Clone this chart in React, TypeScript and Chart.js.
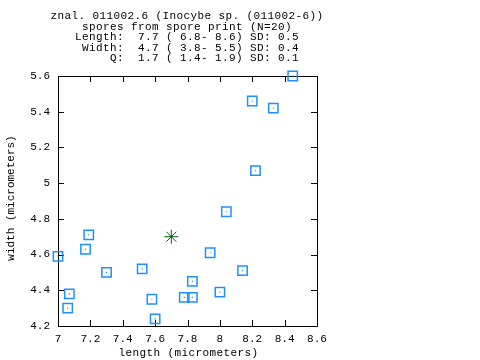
import React, { useEffect, useRef } from "react";
import { Chart, registerables } from "chart.js";

Chart.register(...registerables);

// ---- data ----
const lengths = [7.19, 7.17, 7.0, 7.3, 7.52, 7.07, 7.06, 7.58, 7.6, 7.78, 7.83, 7.83, 8.04, 7.94, 8.14, 8.0, 8.45, 8.2, 8.33, 8.22];
const widths = [4.71, 4.63, 4.59, 4.5, 4.52, 4.38, 4.3, 4.35, 4.24, 4.36, 4.36, 4.45, 4.84, 4.61, 4.51, 4.39, 5.6, 5.46, 5.42, 5.07];
const meanLength = [7.7];
const meanWidth = [4.7];

const xMin = 7.0;
const xMax = 8.6;
const yMin = 4.2;
const yMax = 5.6;
const tickStep = 0.2;

const titleLines = [
  "znal. 011002.6 (Inocybe sp. (011002-6))",
  "spores from spore print (N=20)",
  "Length:  7.7 ( 6.8- 8.6) SD: 0.5",
  " Width:  4.7 ( 3.8- 5.5) SD: 0.4",
  "     Q:  1.7 ( 1.4- 1.9) SD: 0.1",
];
const xTitle = "length (micrometers)";
const yTitle = "width (micrometers)";

const MONO = "'Liberation Mono', 'DejaVu Sans Mono', monospace";
const SQUARE_COLOR = "#1e90ff";
const MEAN_COLOR = "#006400";

const fmt = (v: number | string) => Number(Number(v).toFixed(1)).toString();

const framePlugin = {
  id: "gnuplotFrame",
  beforeDatasetsDraw(chart: any) {
    const { ctx, chartArea } = chart;
    const { left, right, top, bottom } = chartArea;
    ctx.save();
    ctx.strokeStyle = "#000";
    ctx.lineWidth = 1;
    ctx.beginPath();
    ctx.rect(Math.round(left) + 0.5, Math.round(top) + 0.5, Math.round(right - left), Math.round(bottom - top));
    ctx.stroke();
    const tl = 6;
    const xs = chart.scales.x;
    const ys = chart.scales.y;
    ctx.beginPath();
    xs.ticks.forEach((t: any) => {
      const px = Math.round(xs.getPixelForValue(t.value)) + 0.5;
      ctx.moveTo(px, bottom);
      ctx.lineTo(px, bottom - tl);
      ctx.moveTo(px, top);
      ctx.lineTo(px, top + tl);
    });
    ys.ticks.forEach((t: any) => {
      const py = Math.round(ys.getPixelForValue(t.value)) + 0.5;
      ctx.moveTo(left, py);
      ctx.lineTo(left + tl, py);
      ctx.moveTo(right, py);
      ctx.lineTo(right - tl, py);
    });
    ctx.stroke();
    ctx.restore();
  },
  afterDraw(chart: any) {
    const { ctx, chartArea } = chart;
    ctx.save();
    ctx.fillStyle = "#000";
    ctx.font = `11px ${MONO}`;
    (ctx as any).letterSpacing = "0.4px";
    ctx.textBaseline = "middle";
    ctx.textAlign = "left";
    const cx = 187;
    const refW = ctx.measureText(titleLines[2]).width;
    titleLines.forEach((line, i) => {
      const w = i < 2 ? ctx.measureText(line).width : refW;
      ctx.fillText(line, cx - w / 2, 16.5 + i * 10.5);
    });
    // x axis title
    const xw = ctx.measureText(xTitle).width;
    ctx.fillText(xTitle, (chartArea.left + chartArea.right) / 2 + 1 - xw / 2, 353);
    // y axis title
    (ctx as any).letterSpacing = "0px";
    ctx.translate(11, (chartArea.top + chartArea.bottom) / 2 - 3);
    ctx.rotate(-Math.PI / 2);
    ctx.textAlign = "center";
    ctx.fillText(yTitle, 0, 0);
    ctx.restore();
  },
};

export default function App() {
  const ref = useRef<HTMLCanvasElement>(null);
  useEffect(() => {
    document.body.style.margin = "0";
    const canvas = ref.current;
    if (!canvas) return;
    const pts = lengths.map((x, i) => ({ x, y: widths[i] }));
    const means = meanLength.map((x, i) => ({ x, y: meanWidth[i] }));
    const chart = new Chart(canvas, {
      type: "scatter",
      data: {
        datasets: [
          {
            data: pts,
            pointStyle: "rect",
            pointRadius: 6.6,
            borderColor: SQUARE_COLOR,
            backgroundColor: "rgba(0,0,0,0)",
            borderWidth: 1.5,
            clip: false,
          } as any,
          {
            data: pts,
            pointStyle: "rect",
            pointRadius: 0.8,
            borderWidth: 0,
            backgroundColor: SQUARE_COLOR,
            clip: false,
          } as any,
          {
            data: means,
            pointStyle: "star",
            pointRadius: 7,
            borderColor: MEAN_COLOR,
            backgroundColor: MEAN_COLOR,
            borderWidth: 1,
            clip: false,
          } as any,
        ],
      },
      options: {
        responsive: false,
        animation: false,
        events: [],
        layout: { padding: { top: 76, right: 163, left: 0, bottom: 0 } },
        plugins: {
          legend: { display: false },
          tooltip: { enabled: false },
          title: { display: false },
        },
        scales: {
          x: {
            type: "linear",
            min: xMin,
            max: xMax,
            grid: { display: false, drawTicks: false },
            border: { display: false },
            afterFit: (s: any) => {
              s.height = 34;
            },
            ticks: {
              stepSize: tickStep,
              padding: 6,
              maxRotation: 0,
              autoSkip: false,
              color: "#000",
              font: { family: MONO, size: 11 },
              callback: (v: any) => fmt(v),
            },
          },
          y: {
            type: "linear",
            min: yMin,
            max: yMax,
            grid: { display: false, drawTicks: false },
            border: { display: false },
            afterFit: (s: any) => {
              s.width = 58;
            },
            ticks: {
              stepSize: tickStep,
              padding: 8,
              autoSkip: false,
              color: "#000",
              font: { family: MONO, size: 11 },
              callback: (v: any) => fmt(v),
            },
          },
        },
      },
      plugins: [framePlugin],
    });
    return () => chart.destroy();
  }, []);
  return <canvas ref={ref} width={480} height={360} style={{ display: "block", width: 480, height: 360 }} />;
}
